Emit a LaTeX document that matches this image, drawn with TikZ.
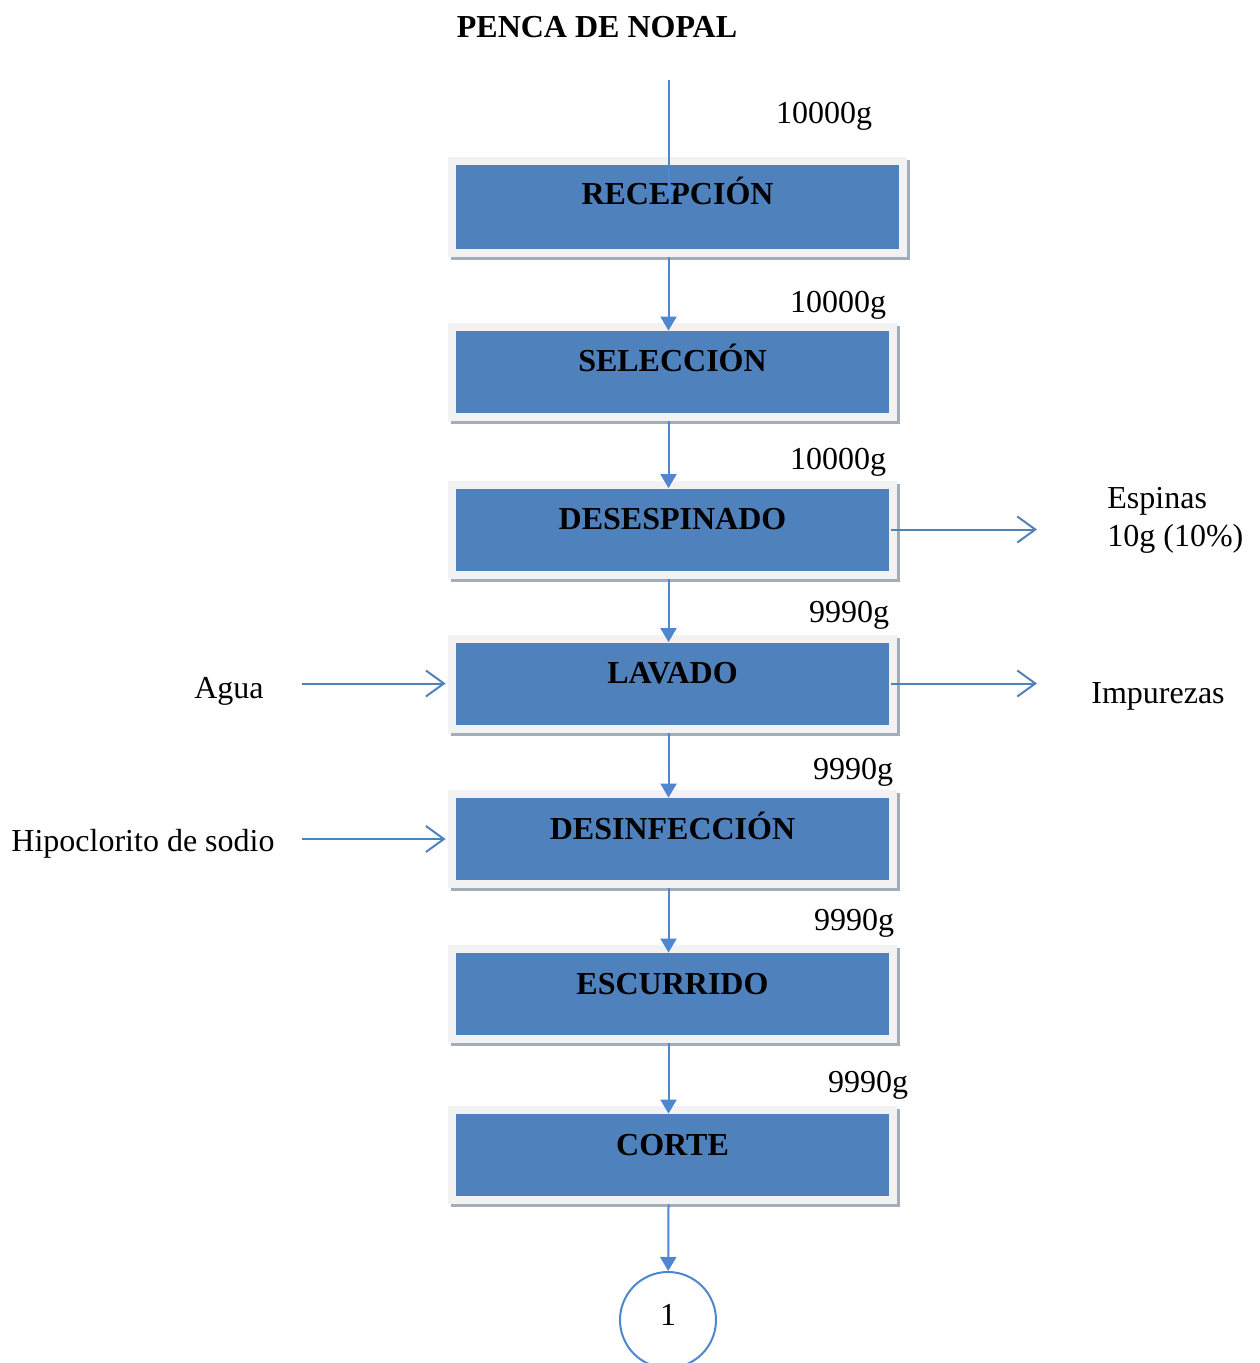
\documentclass[tikz,border=0pt]{standalone}
\usepackage{fontspec}
\setmainfont{Liberation Serif}
\usetikzlibrary{arrows.meta,positioning,shadows}
\definecolor{cajaazul}{HTML}{4F81BD}
\definecolor{marco}{HTML}{F2F2F2}
\definecolor{sombra}{HTML}{A3ADBA}
\definecolor{linea}{HTML}{4F86D0}

\begin{document}
\begin{tikzpicture}[x=0.5pt,y=-0.5pt,
  proceso/.style={rectangle,fill=marco,minimum width=224.5pt,minimum height=49pt,
    inner xsep=0pt,inner ysep=0pt,text height=11pt,text depth=11pt,
    font=\fontsize{16}{19}\selectfont\bfseries,
    drop shadow={shadow xshift=1.5pt,shadow yshift=-1.5pt,fill=sombra,opacity=1},
    path picture={\fill[cajaazul] ([shift={(4pt,4pt)}]path picture bounding box.south west)
      rectangle ([shift={(-4pt,-4pt)}]path picture bounding box.north east);}},
  texto/.style={inner sep=0pt,font=\fontsize{16}{19}\selectfont},
  dato/.style={texto,anchor=base},
  conector/.style={circle,draw=linea,line width=1pt,minimum size=48pt,inner sep=0pt,
    text height=10.6pt,text depth=5pt,fill=white,font=\fontsize{16}{19}\selectfont},
  flechav/.style={draw=linea,line width=1pt,-{Triangle[length=7pt,width=8pt]}},
  flechah/.style={draw=cajaazul,line width=1pt,-{Straight Barb[length=9pt,width=13pt]}}]
\useasboundingbox (0,0) rectangle (1259,1363);

\node[texto,anchor=base,font=\fontsize{16}{19}\selectfont\bfseries] (titulo) at (597,38) {PENCA DE NOPAL};

% etapas del proceso
\node[proceso,minimum width=229.5pt,minimum height=50pt,text depth=13pt] (recepcion) at (677.5,207) {RECEPCIÓN};
\node[proceso] (seleccion) at (672.5,372) {SELECCIÓN};
\node[proceso] (desespinado) at (672.5,529.5) {DESESPINADO};
\node[proceso] (lavado) at (672.5,683.5) {LAVADO};
\node[proceso] (desinfeccion) at (672.5,839) {DESINFECCIÓN};
\node[proceso] (escurrido) at (672.5,994) {ESCURRIDO};
\node[proceso] (corte) at (672.5,1155) {CORTE};
\node[conector] (uno) at (668,1320) {1};

% pesos
\node[dato] (peso1) at (824,124) {10000g};
\node[dato] (peso2) at (838,313) {10000g};
\node[dato] (peso3) at (838,469) {10000g};
\node[dato] (peso4) at (849,622) {9990g};
\node[dato] (peso5) at (853,779) {9990g};
\node[dato] (peso6) at (854,930) {9990g};
\node[dato] (peso7) at (868,1092) {9990g};

% entradas y salidas
\node[texto,align=left,anchor=north west] (espinas) at (1107,487) {Espinas\\10g (10\%)};
\node[dato] (impurezas) at (1158,703) {Impurezas};
\node[dato] (agua) at (229,698) {Agua};
\node[dato] (hipoclorito) at (143,851) {Hipoclorito de sodio};

\coordinate (eje) at (668.5,80);
\coordinate (salida1) at (1037,529.5);
\coordinate (salida2) at (1037,683.5);
\coordinate (entrada1) at (302,683.5);
\coordinate (entrada2) at (302,839);

\draw[flechav] (eje) -- ([xshift=-4.5pt,yshift=-21.5pt]recepcion.north);
\draw[flechav] ([xshift=-4.5pt]recepcion.south) -- ([xshift=-2pt,yshift=-4pt]seleccion.north);
\draw[flechav] ([xshift=-2pt]seleccion.south) -- ([xshift=-2pt,yshift=-4pt]desespinado.north);
\draw[flechav] ([xshift=-2pt]desespinado.south) -- ([xshift=-2pt,yshift=-4pt]lavado.north);
\draw[flechav] ([xshift=-2pt]lavado.south) -- ([xshift=-2pt,yshift=-4pt]desinfeccion.north);
\draw[flechav] ([xshift=-2pt]desinfeccion.south) -- ([xshift=-2pt,yshift=-4pt]escurrido.north);
\draw[flechav] ([xshift=-2pt]escurrido.south) -- ([xshift=-2pt,yshift=-4pt]corte.north);
\draw[flechav] ([xshift=-2pt]corte.south) -- (uno);

\draw[flechah] ([xshift=-3pt]desespinado.east) -- (salida1);
\draw[flechah] ([xshift=-3pt]lavado.east) -- (salida2);
\draw[flechah] (entrada1) -- ([xshift=-1pt]lavado.west);
\draw[flechah] (entrada2) -- ([xshift=-1pt]desinfeccion.west);
\end{tikzpicture}
\end{document}
